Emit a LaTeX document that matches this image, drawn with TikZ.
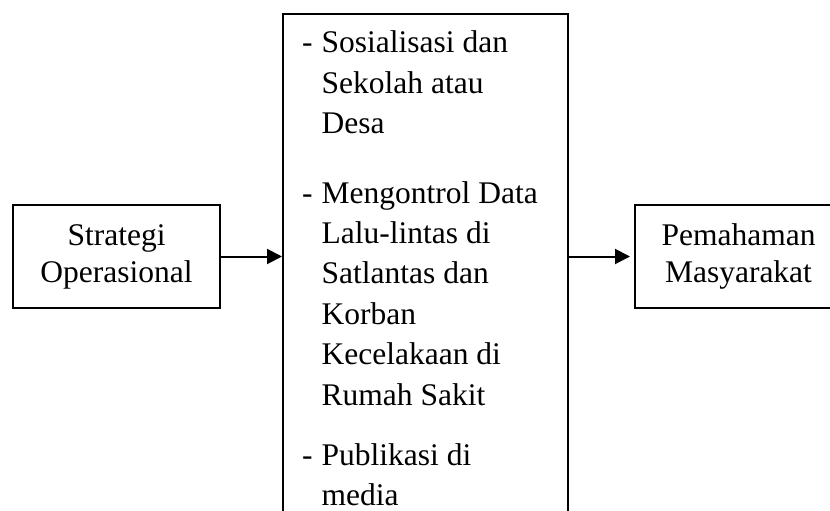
\documentclass[tikz,border=0pt]{standalone}
\usepackage{fontspec}
\setmainfont{Liberation Serif}
\usetikzlibrary{positioning,calc,arrows.meta}
\tikzset{
  sd box/.style={rectangle, draw, line width=2pt, align=center, inner sep=0pt, minimum width=207pt, minimum height=103pt, font=\fontsize{31.5}{37}\selectfont},
  sd frame/.style={rectangle, draw, line width=2pt, inner sep=0pt, minimum width=285pt, minimum height=540pt},
  sd item/.style={anchor=base west, inner sep=0pt, font=\fontsize{31.5}{40.4}\selectfont},
  sd arrow/.style={-{Triangle[length=15pt, width=15pt]}, line width=2pt}
}
\newcommand{\sditem}[1]{\begin{tabular}[t]{@{}p{19.5pt}@{}l@{}}#1\end{tabular}}

\begin{document}
\begin{tikzpicture}[x=1pt, y=-1pt]
    % page, the right box and the middle frame run off it
    \clip (0,0) rectangle (830,511);

    % Boxes
    \node [sd box] (Strat) at (116.5,256.5) {Strategi\\Operasional};
    \node [sd frame, anchor=north west] (Mid) at (282,13) {};
    \node [sd box] (Paham) at (738.5,256.5) {Pemahaman\\Masyarakat};

    % List in the middle frame
    \node [sd item] (Item1) at (302,53) {\sditem{- & Sosialisasi dan\\ & Sekolah atau\\ & Desa}};
    \node [sd item] (Item2) at (302,203) {\sditem{- & Mengontrol Data\\ & Lalu-lintas di\\ & Satlantas dan\\ & Korban\\ & Kecelakaan di\\ & Rumah Sakit}};
    \node [sd item] (Item3) at (302,465) {\sditem{- & Publikasi di\\ & media}};

    % Arrows
    \draw [sd arrow] (Strat) -- (Strat -| Mid.west);
    \draw [sd arrow, shorten >=4pt] (Mid.east |- Paham) -- (Paham);
\end{tikzpicture}
\end{document}
